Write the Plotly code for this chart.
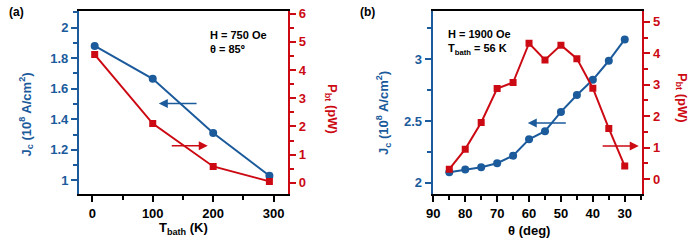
import plotly.graph_objects as go

# ---- data ----
T_bath = [4, 100, 200, 293]
Jc_a = [1.88, 1.665, 1.31, 1.03]
Pbt_a = [4.55, 2.1, 0.58, 0.05]

theta = [85, 80, 75, 70, 65, 60, 55, 50, 45, 40, 35, 30]
Jc_b = [2.087, 2.108, 2.127, 2.159, 2.22, 2.352, 2.418, 2.574, 2.71, 2.833, 2.987, 3.159]
Pbt_b = [0.31, 0.95, 1.80, 2.88, 3.07, 4.32, 3.79, 4.26, 3.83, 2.89, 1.61, 0.41]

BLUE = "#1b5b9c"
RED = "#cc0a14"
FONT = "Liberation Sans"
W, H = 700, 245

fig = go.Figure()
fig.add_trace(go.Scatter(x=T_bath, y=Jc_a, mode="lines+markers", xaxis="x", yaxis="y",
                         line=dict(color=BLUE, width=2), marker=dict(symbol="circle", size=8, color=BLUE)))
fig.add_trace(go.Scatter(x=T_bath, y=Pbt_a, mode="lines+markers", xaxis="x", yaxis="y2",
                         line=dict(color=RED, width=2), marker=dict(symbol="square", size=7, color=RED)))
fig.add_trace(go.Scatter(x=theta, y=Jc_b, mode="lines+markers", xaxis="x2", yaxis="y3",
                         line=dict(color=BLUE, width=2), marker=dict(symbol="circle", size=8, color=BLUE)))
fig.add_trace(go.Scatter(x=theta, y=Pbt_b, mode="lines+markers", xaxis="x2", yaxis="y4",
                         line=dict(color=RED, width=2), marker=dict(symbol="square", size=7, color=RED)))

ydom = [1 - 193 / H, 1 - 6 / H]
tickfont_black = dict(family=FONT, size=13, color="black", weight="bold")

def xax(dom, rng, dtick, minor_dtick):
    return dict(domain=dom, range=rng, showgrid=False, zeroline=False, showline=True,
                linecolor="black", linewidth=2, mirror=True, ticks="outside", ticklen=6,
                tickwidth=2, tickcolor="black", tickfont=tickfont_black, dtick=dtick,
                minor=dict(dtick=minor_dtick, ticklen=4, tickwidth=2, tickcolor="black",
                           showgrid=False, ticks="outside"))

def yax(rng, dtick, minor_dtick, color, side, anchor, overlaying=None):
    d = dict(domain=ydom, range=rng, showgrid=False, zeroline=False, showline=True,
             linecolor=color, linewidth=2, ticks="outside", ticklen=6, tickwidth=2,
             tickcolor=color, tickfont=dict(family=FONT, size=13, color=color, weight="bold"),
             dtick=dtick, side=side, anchor=anchor,
             minor=dict(dtick=minor_dtick, ticklen=4, tickwidth=2, tickcolor=color,
                        showgrid=False, ticks="outside"))
    if overlaying:
        d["overlaying"] = overlaying
    return d

fig.update_layout(
    width=W, height=H, margin=dict(l=0, r=0, t=0, b=0),
    paper_bgcolor="white", plot_bgcolor="white", showlegend=False,
    font=dict(family=FONT, size=12, color="black"),
    xaxis=dict(xax([72.7 / W, 284 / W], [-22, 324], 100, 50), anchor="y"),
    yaxis=yax([0.91, 2.11], 0.2, 0.1, BLUE, "left", "x"),
    yaxis2=yax([-0.4, 6.1], 1, 0.5, RED, "right", "x", overlaying="y"),
    xaxis2=dict(xax([430 / W, 641.7 / W], [90.2, 24.5], 10, 5), anchor="y3"),
    yaxis3=yax([1.91, 3.39], 0.5, 0.25, BLUE, "left", "x2"),
    yaxis4=yax([-0.48, 5.35], 1, 0.5, RED, "right", "x2", overlaying="y3"),
)

def px(xp, yp):
    return xp / W, 1 - yp / H

ann = []
def text(s, xp, yp, color="black", size=12, angle=0, xanchor="center", yanchor="middle", align="center"):
    x, y = px(xp, yp)
    ann.append(dict(text=s, x=x, y=y, xref="paper", yref="paper", showarrow=False,
                    textangle=angle, xanchor=xanchor, yanchor=yanchor, align=align,
                    font=dict(family=FONT, size=size, color=color, weight="bold")))

text("(a)", 0, 7, xanchor="left")
text("(b)", 355, 7, xanchor="left")
text("J<sub>c</sub> (10<sup>8</sup> A/cm<sup>2</sup>)", 19, 112, BLUE, 13, -90)
text("P<sub>bt</sub> (pW)", 327, 106, RED, 13, 90)
text("T<sub>bath</sub> (K)", 178, 228, "black", 13)
text("J<sub>c</sub> (10<sup>8</sup> A/cm<sup>2</sup>)", 380, 110, BLUE, 13, -90)
text("P<sub>bt</sub> (pW)", 682, 95, RED, 13, 90)
text("θ (deg)", 527, 230, "black", 13)
text("H = 750 Oe<br>θ = 85º", 203, 38, "black", 11, xanchor="left", align="left")
text("H = 1900 Oe<br>T<sub>bath</sub> = 56 K", 443, 38, "black", 11, xanchor="left", align="left")

def arrow(xref, yref, x_tip, x_tail, yv, color):
    ann.append(dict(x=x_tip, y=yv, ax=x_tail, ay=yv, xref=xref, yref=yref, axref=xref, ayref=yref,
                    text="", showarrow=True, arrowhead=2, arrowsize=1.2, arrowwidth=1.5,
                    arrowcolor=color))

arrow("x", "y", 110, 175, 1.503, BLUE)
arrow("x", "y2", 191, 129, 1.31, RED)
arrow("x2", "y3", 60.4, 48, 2.484, BLUE)
arrow("x2", "y4", 25.6, 37.4, 1.05, RED)
fig.update_layout(annotations=ann)

# remove the browser's default 8px body margin so the figure sits at the page origin
fig.write_html("out.html", config={"displayModeBar": False},
               post_script="document.body.style.margin='0';")
